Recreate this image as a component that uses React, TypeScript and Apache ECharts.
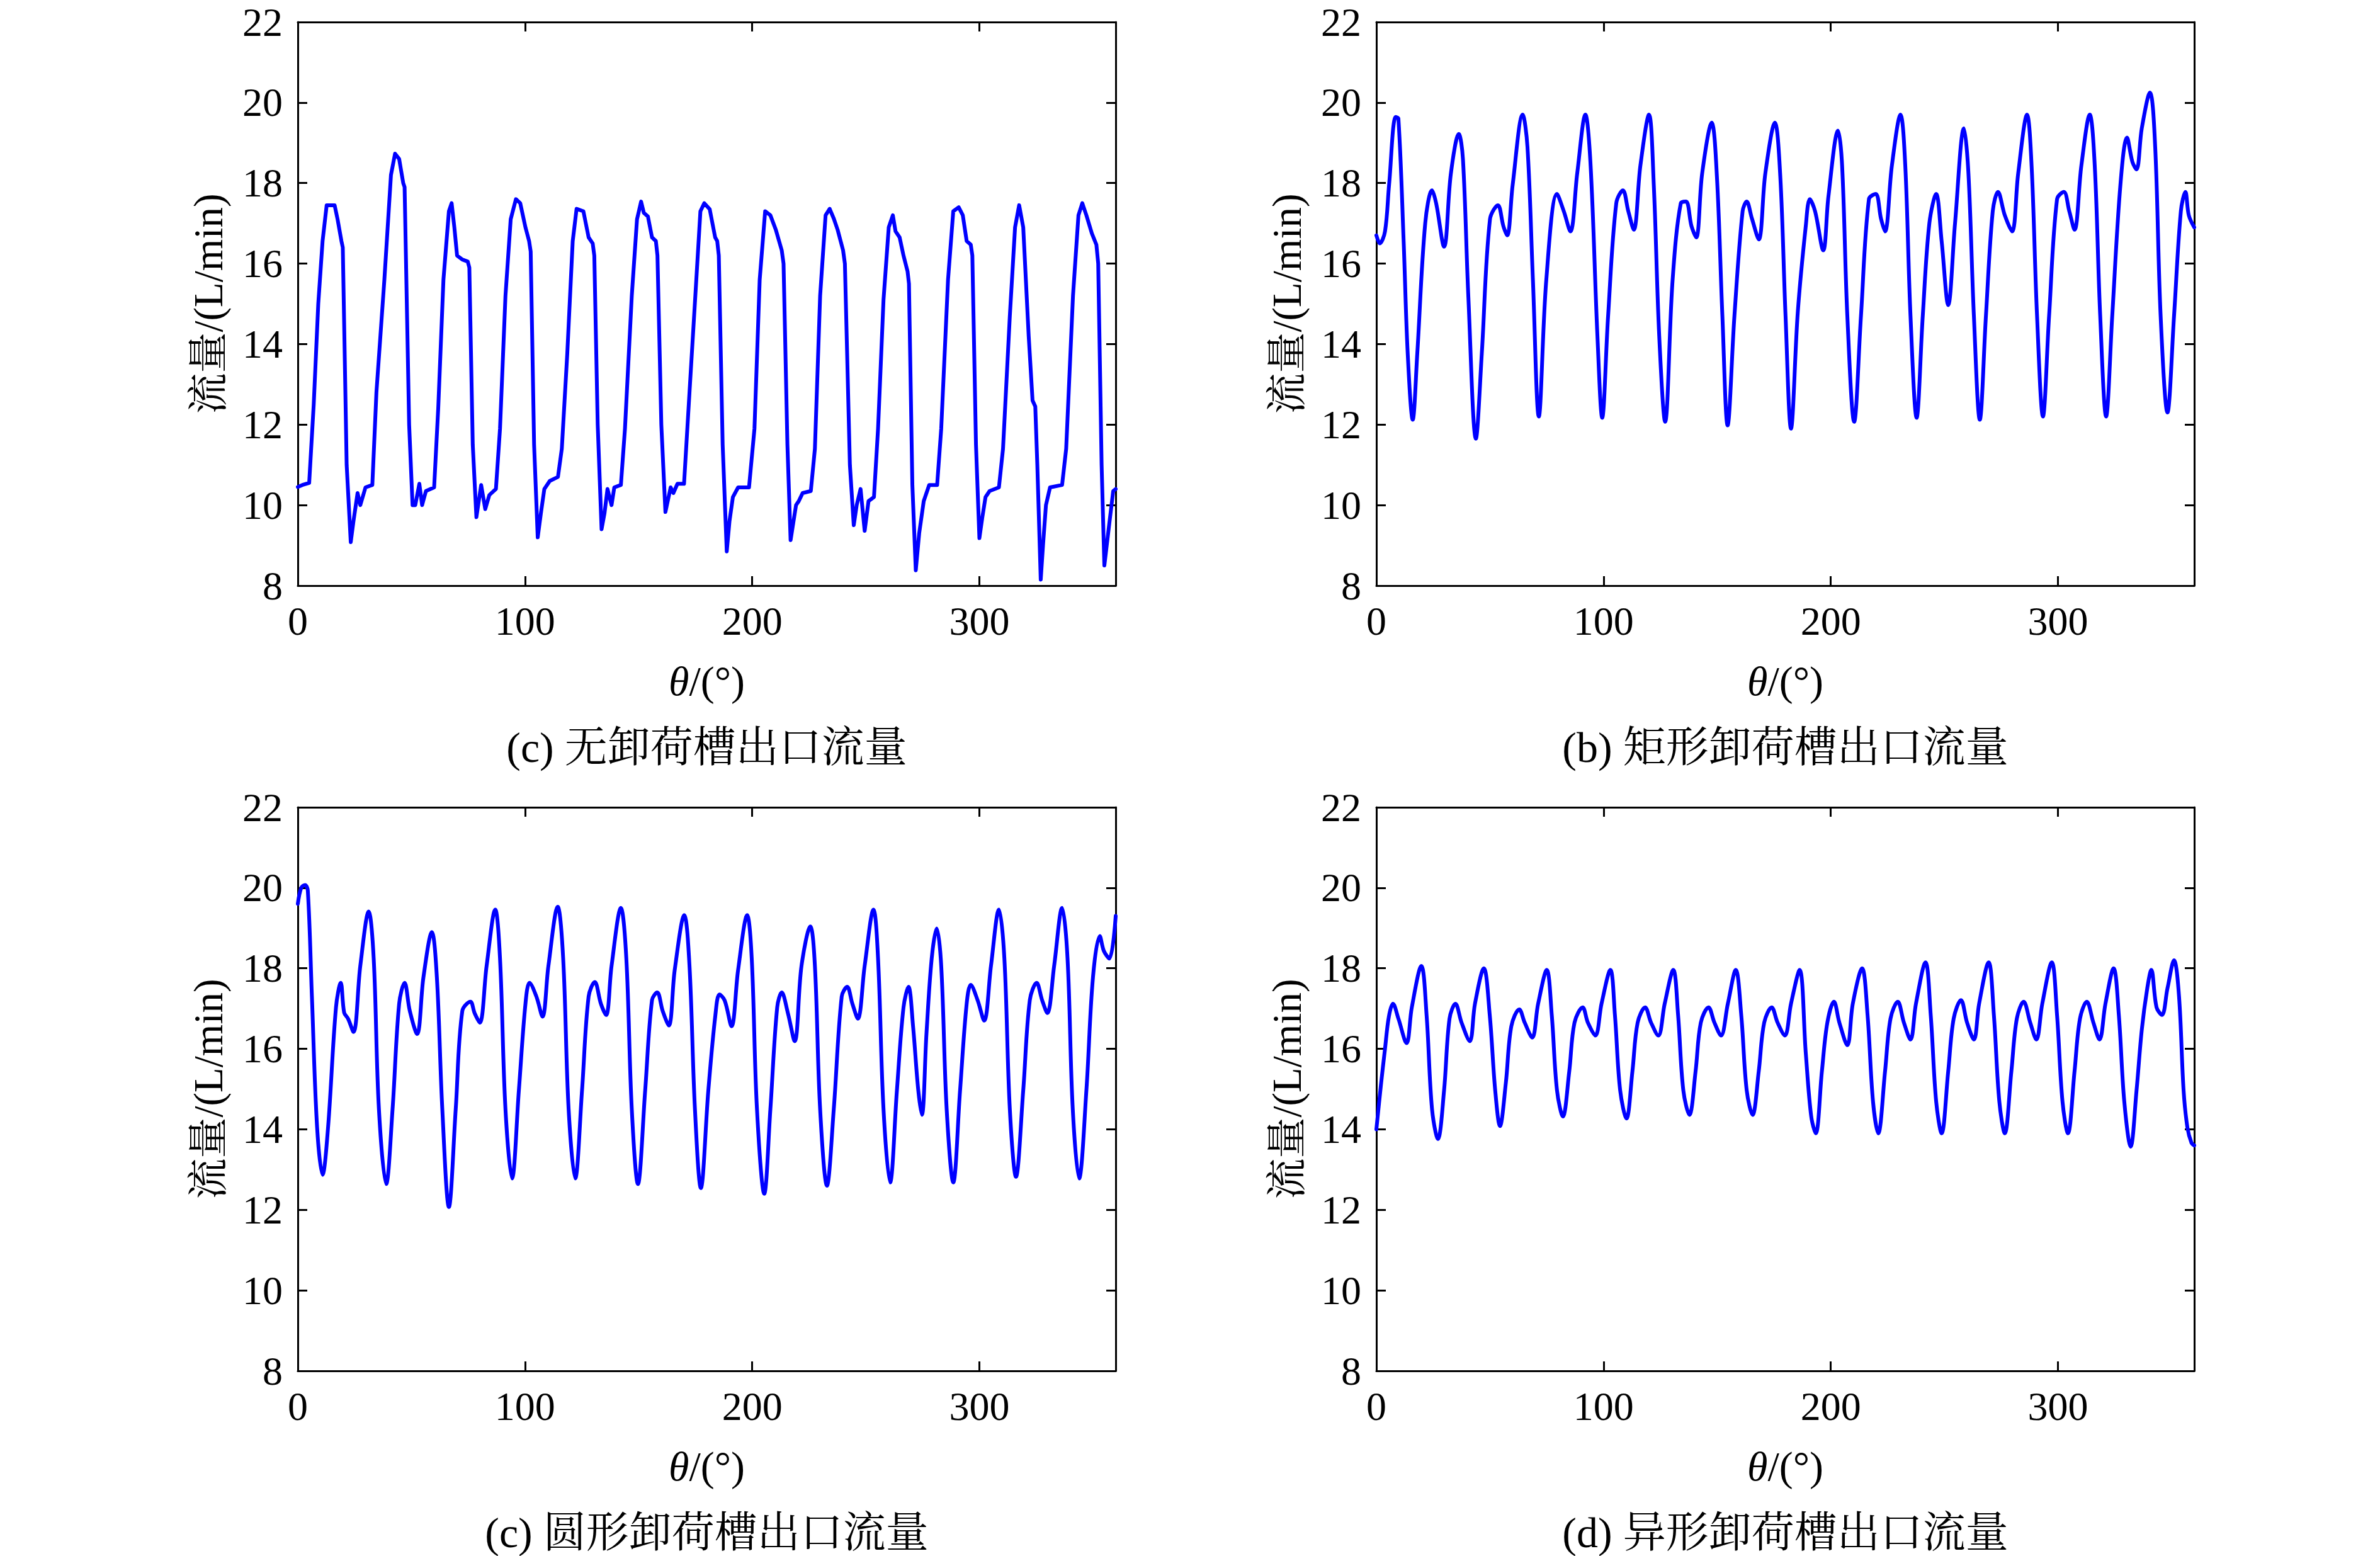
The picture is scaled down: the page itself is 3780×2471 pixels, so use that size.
import React, { useEffect, useRef } from "react";
import * as echarts from "echarts";

// ---------- data ----------
const xTicks = [0, 100, 200, 300];
const yTicks = [8, 10, 12, 14, 16, 18, 20, 22];
const yTitle = "流量/(L/min)";
const captions = [
  "(c) 无卸荷槽出口流量",
  "(b) 矩形卸荷槽出口流量",
  "(c) 圆形卸荷槽出口流量",
  "(d) 异形卸荷槽出口流量",
];

// (a) no relief groove
const thetaA = [0, 2, 5, 7, 9, 10.9, 12.7, 16.2, 17.5, 19.2, 19.8, 21.5, 23.3, 24.5, 26.3, 27.5, 29.8, 32.8, 34.6, 38.1, 41, 42.8, 44.6, 46.4, 47, 49, 50.5, 51.7, 53.5, 54.7, 56.4, 60, 61.8, 64.1, 66.5, 67.7, 68.9, 70.1, 72.4, 74.8, 75.5, 77, 78.6, 80.7, 82.5, 84.3, 87.2, 89, 91.4, 93.7, 96, 97.9, 100.2, 101.8, 102.5, 104, 105.6, 107, 108.5, 110.9, 114.5, 116.2, 118.6, 121, 122.7, 125.7, 128, 129.8, 130.5, 132, 133.7, 135, 136.3, 138.1, 139.3, 142.2, 144, 147, 149.3, 151.1, 152.3, 154.1, 155.9, 157.6, 158.3, 160, 161.8, 164.1, 165.3, 167.1, 170, 172.4, 175.4, 177.2, 178.9, 181.3, 183.7, 184.6, 185.3, 187, 188.8, 190, 191.5, 193.8, 198.6, 201, 203.3, 205.7, 208, 210.4, 213, 213.8, 215.5, 216.9, 219.3, 220.5, 222.2, 225.8, 227.6, 229.9, 232.3, 234.1, 235.9, 237.6, 240, 240.8, 243, 244.7, 246, 247.7, 249.5, 251.2, 253.6, 255.4, 257.8, 260.1, 261.9, 263.1, 264.9, 266.6, 268.4, 269, 270.5, 272, 273.5, 275.5, 277.9, 281.4, 283.2, 286.2, 288.5, 290.9, 292.7, 294.4, 296.2, 296.9, 298.5, 300, 301.3, 302.7, 304.5, 308.6, 310.4, 313.4, 315.7, 317.5, 319.3, 321.7, 323.4, 324.6, 325.5, 327, 328, 329.3, 331.1, 336.4, 338.2, 341.2, 343.6, 345.3, 347.1, 349.5, 351.5, 352.3, 353.8, 355, 357.2, 358.9, 360];
const flowA = [10.45, 10.5, 10.55, 12.5, 15.0, 16.56, 17.45, 17.45, 17.1, 16.56, 16.4, 11.0, 9.08, 9.6, 10.3, 10.0, 10.44, 10.5, 12.8, 15.6, 18.2, 18.73, 18.6, 18.0, 17.9, 12.0, 10.0, 10.0, 10.53, 10.0, 10.35, 10.44, 12.4, 15.6, 17.3, 17.5, 16.9, 16.2, 16.1, 16.05, 15.9, 11.5, 9.7, 10.5, 9.9, 10.25, 10.4, 11.9, 15.2, 17.1, 17.6, 17.5, 16.9, 16.56, 16.3, 11.5, 9.2, 9.8, 10.4, 10.6, 10.7, 11.4, 13.76, 16.56, 17.36, 17.3, 16.65, 16.5, 16.2, 12.0, 9.4, 9.8, 10.4, 10.0, 10.44, 10.5, 11.9, 15.2, 17.1, 17.54, 17.26, 17.17, 16.65, 16.56, 16.2, 12.0, 9.83, 10.44, 10.3, 10.53, 10.53, 12.8, 15.6, 17.3, 17.5, 17.35, 16.65, 16.56, 16.2, 11.5, 8.85, 9.6, 10.2, 10.44, 10.44, 11.9, 15.6, 17.3, 17.2, 16.84, 16.33, 16.0, 11.5, 9.13, 10.0, 10.1, 10.3, 10.35, 11.4, 15.2, 17.2, 17.36, 17.12, 16.84, 16.33, 16.0, 11.0, 9.5, 10.0, 10.4, 9.36, 10.1, 10.2, 11.9, 15.1, 16.9, 17.2, 16.8, 16.65, 16.2, 15.8, 15.5, 10.5, 8.38, 9.3, 10.1, 10.5, 10.5, 11.9, 15.6, 17.3, 17.4, 17.2, 16.56, 16.47, 16.2, 11.5, 9.18, 9.7, 10.2, 10.35, 10.44, 11.4, 14.7, 16.9, 17.45, 16.9, 14.2, 12.6, 12.45, 11.0, 8.15, 9.0, 10.0, 10.44, 10.5, 11.4, 15.2, 17.2, 17.5, 17.2, 16.75, 16.47, 16.0, 11.0, 8.5, 9.55, 10.35, 10.4];

// (b) rectangular relief groove
const thetaB = [0, 1.5, 3.8, 5.6, 8.5, 9.7, 12, 13.8, 16, 18, 21.5, 24.5, 26.3, 29.8, 32.8, 36.3, 38.1, 40.5, 43.8, 46.4, 50, 53.5, 55.9, 57.6, 60, 64.4, 66.5, 68.9, 71.5, 74.8, 79.5, 82.5, 85.4, 88.4, 92, 94.3, 97.3, 99.4, 102, 105.6, 108.5, 110.9, 113.3, 116.2, 120, 122.1, 124.5, 127.1, 130.4, 134, 136.3, 138.7, 140.8, 143.4, 147.6, 149.9, 152.3, 154.6, 157.6, 161.2, 163, 165.3, 168.3, 171.2, 175.4, 177.8, 180.1, 182.5, 185.5, 189, 190.8, 193.1, 196.7, 199, 203.2, 205, 207.3, 210.3, 213.3, 216.8, 219.8, 222.1, 223.9, 226.9, 230.7, 232.8, 235.1, 237.8, 240.5, 243.4, 246.4, 248.8, 251.7, 254.7, 258.6, 260.6, 263, 265.6, 268.3, 271.3, 273.6, 276.6, 279.8, 282.5, 286.4, 288.4, 290.8, 293.4, 296.1, 299.6, 302.6, 305, 307.3, 310.3, 314, 316.2, 318.6, 321.2, 323.9, 327.5, 330.4, 332.8, 334.6, 336.9, 340.5, 342.8, 345.2, 348.2, 351.1, 354.1, 356.1, 357.6, 360];
const flowB = [16.7, 16.5, 16.8, 17.96, 19.64, 19.6, 16.56, 13.76, 12.12, 13.76, 17.0, 17.82, 17.5, 16.42, 18.24, 19.22, 18.6, 15.16, 11.65, 13.76, 17.1, 17.45, 16.93, 16.7, 17.96, 19.7, 18.9, 15.6, 12.2, 15.6, 17.73, 17.3, 16.8, 18.24, 19.7, 18.43, 14.2, 12.17, 14.7, 17.5, 17.82, 17.3, 16.84, 18.43, 19.7, 17.96, 14.2, 12.07, 15.6, 17.5, 17.54, 16.93, 16.65, 18.24, 19.5, 18.15, 14.7, 11.98, 14.7, 17.3, 17.54, 17.12, 16.6, 18.24, 19.5, 18.15, 14.7, 11.9, 14.8, 16.93, 17.6, 17.3, 16.33, 17.68, 19.3, 18.43, 14.7, 12.07, 14.7, 17.6, 17.73, 17.12, 16.8, 18.43, 19.7, 18.43, 14.7, 12.17, 14.7, 17.0, 17.73, 16.56, 14.97, 17.0, 19.36, 18.24, 14.7, 12.12, 14.7, 17.3, 17.78, 17.2, 16.8, 18.24, 19.7, 18.43, 14.7, 12.2, 14.7, 17.6, 17.78, 17.3, 16.84, 18.43, 19.7, 18.43, 14.7, 12.2, 14.7, 17.96, 19.13, 18.52, 18.34, 19.36, 20.25, 18.9, 14.7, 12.3, 14.7, 17.3, 17.78, 17.2, 16.9];

// (c) circular relief groove
const thetaC = [0, 1.5, 3.2, 4.4, 6.2, 8.5, 10.9, 13.3, 16.8, 18.9, 20.4, 22.1, 24.5, 27.5, 31.2, 33.4, 35.7, 38.9, 41.7, 44.6, 47, 49.3, 52.5, 55.3, 59, 61.2, 63.6, 66.5, 69.5, 72.4, 76, 77.8, 80.1, 83.1, 86.9, 89, 91.4, 94.3, 97.3, 100.2, 102, 105, 107.7, 110.3, 114.4, 116.8, 119.2, 122.1, 125.1, 128, 130.7, 133.4, 135.7, 138.1, 142.2, 144.6, 147, 149.7, 152.9, 155.9, 158.2, 160.6, 163.3, 165.9, 170.1, 172.4, 174.8, 177.4, 180.7, 183.8, 185.6, 187.9, 190.9, 193.8, 197.8, 199.8, 202.1, 205.3, 208, 211, 213, 215.7, 218.7, 221.7, 225.6, 227.6, 229.9, 232.9, 235.9, 239.4, 241.8, 244.1, 246.5, 249.5, 253.4, 255.4, 257.8, 260.7, 263.7, 266.6, 268.8, 270.8, 273.1, 274.7, 276.7, 279, 281.2, 283.2, 285.6, 288.5, 291.5, 294.4, 296.2, 299.2, 302.1, 305.1, 308.6, 311, 313.4, 316.1, 319.3, 322.2, 325.2, 327.6, 329.9, 332.9, 336.4, 338.8, 341.1, 343.9, 347.1, 350, 353, 354.8, 357.2, 360];
const flowC = [19.6, 20.0, 20.07, 19.93, 17.3, 14.04, 12.87, 14.04, 17.03, 17.64, 16.9, 16.75, 16.42, 18.06, 19.41, 18.24, 14.5, 12.64, 14.5, 17.12, 17.64, 16.94, 16.37, 17.78, 18.9, 17.78, 14.5, 12.07, 14.5, 16.94, 17.17, 16.89, 16.65, 18.06, 19.46, 18.24, 14.5, 12.78, 14.97, 17.12, 17.64, 17.3, 16.8, 18.06, 19.53, 18.24, 14.5, 12.78, 14.97, 17.3, 17.66, 17.12, 16.84, 18.06, 19.5, 18.24, 14.5, 12.64, 14.97, 17.21, 17.4, 16.94, 16.58, 17.96, 19.32, 18.06, 14.5, 12.54, 14.97, 16.84, 17.35, 17.2, 16.56, 17.96, 19.32, 18.24, 14.5, 12.4, 14.5, 17.03, 17.4, 16.89, 16.19, 18.06, 19.04, 18.06, 14.5, 12.6, 14.5, 17.3, 17.54, 17.12, 16.75, 18.06, 19.46, 18.24, 14.5, 12.68, 14.97, 17.03, 17.54, 16.56, 14.97, 14.36, 16.37, 18.24, 18.99, 18.06, 14.5, 12.68, 14.97, 17.12, 17.59, 17.21, 16.7, 18.06, 19.46, 18.24, 14.5, 12.82, 14.97, 17.21, 17.64, 17.21, 16.89, 18.06, 19.5, 18.24, 14.5, 12.78, 14.97, 17.78, 18.8, 18.43, 18.24, 19.3];

// (d) special-shaped relief groove
const thetaD = [0, 2, 3.8, 5.5, 7.3, 9.7, 13.3, 15.6, 19.8, 22.1, 24.5, 27.1, 29.8, 32.2, 34.8, 37.5, 41.1, 43.4, 47.3, 49.9, 52.3, 54.4, 57, 59.4, 62.9, 65.3, 68.6, 71.2, 75, 77.2, 79.5, 82.1, 84.9, 87.2, 90.8, 93.1, 96.4, 99.1, 103, 105, 107.3, 110.1, 112.7, 115, 118.3, 120.9, 124.1, 126.9, 130.7, 132.8, 135.1, 137.8, 140.5, 142.8, 146.2, 148.8, 151.7, 154.7, 158.2, 160.6, 163, 165.6, 168.3, 170.7, 174, 176.6, 179.8, 182.5, 186.3, 189, 191.4, 193.4, 196.1, 198.5, 201.4, 203.8, 207.3, 209.7, 213.8, 216.2, 218.6, 220.9, 223.9, 226.3, 229.5, 232.2, 235.1, 237.5, 241.7, 244, 246.4, 248.8, 251.7, 254.1, 257.3, 260, 263, 265.3, 269.5, 271.8, 274.2, 276.6, 279.5, 281.9, 284.9, 287.8, 290.5, 293.1, 297.3, 299.6, 302, 304.4, 307.3, 309.7, 312.7, 315.6, 318.3, 320.9, 324.5, 326.8, 329.2, 332, 334.6, 336.9, 339.3, 341.1, 343.4, 345.8, 348.2, 351.1, 353.3, 355.3, 357, 358.8, 360];
const flowD = [14.0, 15.1, 16.0, 16.8, 17.12, 16.75, 16.14, 17.03, 18.06, 16.84, 14.5, 13.76, 14.97, 16.75, 17.12, 16.65, 16.19, 17.12, 18.0, 16.84, 14.97, 14.08, 15.16, 16.56, 16.98, 16.65, 16.28, 17.12, 17.96, 16.84, 14.97, 14.32, 15.44, 16.65, 17.03, 16.65, 16.33, 17.12, 17.96, 16.84, 14.97, 14.27, 15.44, 16.65, 17.03, 16.65, 16.33, 17.12, 17.96, 16.84, 14.97, 14.36, 15.44, 16.65, 17.03, 16.65, 16.33, 17.12, 17.96, 16.84, 14.97, 14.36, 15.44, 16.65, 17.03, 16.65, 16.33, 17.12, 17.96, 15.9, 14.32, 13.9, 15.44, 16.65, 17.17, 16.65, 16.09, 17.12, 18.0, 16.84, 14.69, 13.9, 15.44, 16.75, 17.17, 16.65, 16.23, 17.12, 18.15, 16.84, 14.69, 13.9, 15.44, 16.75, 17.21, 16.65, 16.23, 17.12, 18.15, 16.84, 14.69, 13.9, 15.44, 16.75, 17.17, 16.65, 16.23, 17.12, 18.15, 16.84, 14.69, 13.9, 15.44, 16.75, 17.17, 16.65, 16.23, 17.12, 18.0, 16.84, 14.69, 13.57, 14.97, 16.47, 17.5, 17.96, 17.03, 16.84, 17.5, 18.2, 17.3, 14.97, 14.04, 13.66, 13.6];

// ---------- layout / style ----------
const W = 3780;
const H = 2471;
const FONT = "'Times New Roman', 'Liberation Serif', 'Noto Serif CJK SC', 'Noto Sans CJK SC', serif";
const PLOT_W = 1299;
const PLOT_H = 895;
const LEFTS = [473, 2186, 473, 2186];
const TOPS = [35, 35, 1282, 1282];
const CAPTION_DY = 257;

const panels = [
  { theta: thetaA, flow: flowA, smooth: false as number | boolean },
  { theta: thetaB, flow: flowB, smooth: 0.35 },
  { theta: thetaC, flow: flowC, smooth: 0.35 },
  { theta: thetaD, flow: flowD, smooth: 0.35 },
];

function buildOption() {
  const xMin = xTicks[0];
  const xMax = 360;
  const xInt = xTicks[1] - xTicks[0];
  const yMin = yTicks[0];
  const yMax = yTicks[yTicks.length - 1];
  const yInt = yTicks[1] - yTicks[0];

  const grid: any[] = [];
  const xAxis: any[] = [];
  const yAxis: any[] = [];
  const series: any[] = [];
  const graphic: any[] = [];

  const line = { lineStyle: { color: "#000", width: 3 } };
  const tick = { inside: true, length: 15, lineStyle: { color: "#000", width: 3 } };
  const label = {
    color: "#000",
    fontSize: 64,
    lineHeight: 50,
    fontFamily: FONT,
    margin: 24,
  };

  panels.forEach((p, i) => {
    grid.push({
      left: LEFTS[i],
      top: TOPS[i],
      width: PLOT_W,
      height: PLOT_H,
      show: false,
    });
    // bottom x axis
    xAxis.push({
      type: "value",
      gridIndex: i,
      position: "bottom",
      min: xMin,
      max: xMax,
      interval: xInt,
      axisLine: { show: true, onZero: false, ...line },
      axisTick: tick,
      splitLine: { show: false },
      axisLabel: {
        ...label,
        margin: 31,
        showMaxLabel: false,
        formatter: (v: number) => (xTicks.indexOf(v) >= 0 ? String(v) : ""),
      },
      name: "{i|θ}/(°)",
      nameLocation: "middle",
      nameGap: 118,
      nameTextStyle: {
        color: "#000",
        fontSize: 66,
        fontFamily: FONT,
        rich: {
          i: { fontStyle: "italic", fontSize: 66, fontFamily: FONT, color: "#000" },
        },
      },
    });
    // top mirror axis
    xAxis.push({
      type: "value",
      gridIndex: i,
      position: "top",
      min: xMin,
      max: xMax,
      interval: xInt,
      axisLine: { show: true, onZero: false, ...line },
      axisTick: tick,
      splitLine: { show: false },
      axisLabel: { show: false },
    });
    // left y axis
    yAxis.push({
      type: "value",
      gridIndex: i,
      position: "left",
      min: yMin,
      max: yMax,
      interval: yInt,
      axisLine: { show: true, onZero: false, ...line },
      axisTick: tick,
      splitLine: { show: false },
      axisLabel: { ...label },
      name: yTitle,
      nameLocation: "middle",
      nameGap: 110,
      nameTextStyle: { color: "#000", fontSize: 65, fontFamily: FONT },
    });
    // right mirror axis
    yAxis.push({
      type: "value",
      gridIndex: i,
      position: "right",
      min: yMin,
      max: yMax,
      interval: yInt,
      axisLine: { show: true, onZero: false, ...line },
      axisTick: tick,
      splitLine: { show: false },
      axisLabel: { show: false },
    });

    series.push({
      type: "line",
      xAxisIndex: 2 * i,
      yAxisIndex: 2 * i,
      data: p.theta.map((t, k) => [t, p.flow[k]]),
      showSymbol: false,
      symbol: "none",
      smooth: p.smooth,
      clip: true,
      lineStyle: { color: "#0000ff", width: 6, join: "round", cap: "round" },
      z: 1,
    });

    graphic.push({
      type: "text",
      x: LEFTS[i] + PLOT_W / 2,
      y: TOPS[i] + PLOT_H + CAPTION_DY,
      style: {
        text: captions[i],
        fill: "#000",
        fontSize: 68,
        fontFamily: FONT,
        align: "center",
        verticalAlign: "middle",
      },
    });
  });

  return {
    animation: false,
    backgroundColor: "#fff",
    grid,
    xAxis,
    yAxis,
    series,
    graphic,
  };
}

export default function App() {
  const ref = useRef<HTMLDivElement | null>(null);
  useEffect(() => {
    if (!ref.current) return;
    const chart = echarts.init(ref.current, null, { renderer: "svg", width: W, height: H });
    chart.setOption(buildOption() as any);
    return () => chart.dispose();
  }, []);
  return (
    <div
      ref={ref}
      style={{ position: "absolute", left: 0, top: 0, width: W, height: H, background: "#fff" }}
    />
  );
}
